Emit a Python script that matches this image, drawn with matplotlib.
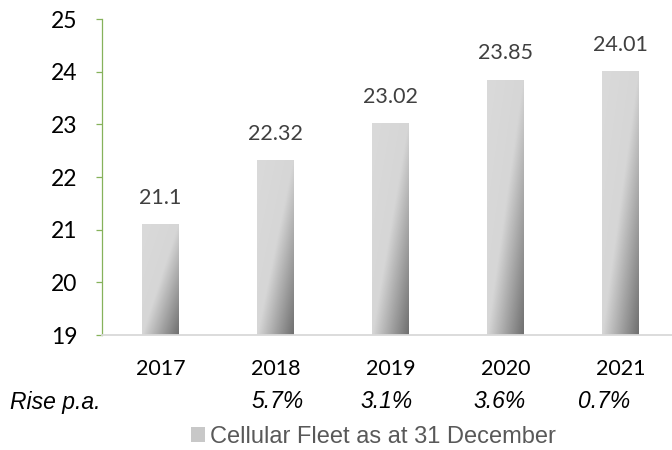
import numpy as np
import matplotlib
matplotlib.use('Agg')
import matplotlib.pyplot as plt
from matplotlib.colors import LinearSegmentedColormap
from matplotlib.patches import Patch
import matplotlib.transforms as mtransforms

# 数据
years = ['2017', '2018', '2019', '2020', '2021']
fleet = [21.1, 22.32, 23.02, 23.85, 24.01]
rise = ['', '5.7%', '3.1%', '3.6%', '0.7%']
y_min, y_max = 19, 25
legend_label = 'Cellular Fleet as at 31 December'

# Rise 行的水平微调（原图并非严格居中）
rise_dx = [0, 0.02, -0.03, -0.05, -0.14]

fig = plt.figure(figsize=(6.72, 4.5), dpi=100)
ax = fig.add_axes([102/672, 115/450, 570/672, 316/450])
ax.set_xlim(-0.509, 4.448)
ax.set_ylim(y_min, y_max)

# 柱子（从 y_min 开始）
x = np.arange(len(years))
bars = ax.bar(x, np.array(fleet) - y_min, bottom=y_min, width=0.32,
              color='#D9D9D9', linewidth=0, zorder=2)

# 渐变填充：左上浅灰 -> 右下深灰
cmap = LinearSegmentedColormap.from_list('g', [(0, '#DADADA'), (0.5, '#D6D6D6'), (1, '#707070')])
uu, vv = np.meshgrid(np.linspace(0, 1, 40), np.linspace(0, 1, 200))
grad = (uu + vv) / 2
for b in bars:
    x0, y0, w, h = b.get_x(), b.get_y(), b.get_width(), b.get_height()
    im = ax.imshow(grad, cmap=cmap, vmin=0, vmax=1, aspect='auto',
                   extent=[x0, x0 + w, y0, y0 + h], origin='upper', zorder=3)
    im.set_clip_path(b)

# 数据标签
for xi, v in zip(x, fleet):
    ax.annotate(f'{v:g}', (xi, v), xytext=(0, 19), textcoords='offset points',
                ha='center', va='center', fontsize=15.5, color='#404040', family='Lato')

# 坐标轴样式
for s in ['top', 'right']:
    ax.spines[s].set_visible(False)
ax.spines['left'].set_color('#86B25B')
ax.spines['left'].set_linewidth(0.9)
ax.spines['bottom'].set_color('#D9D9D9')
ax.spines['bottom'].set_linewidth(1.3)
ax.spines['bottom'].set_zorder(4)

ax.set_yticks(range(y_min, y_max + 1))
ax.tick_params(axis='y', direction='out', length=4.5, width=0.9, color='#86B25B',
               pad=13, labelsize=16.5, labelcolor='black')
ax.set_xticks(x)
ax.set_xticklabels(years)
ax.tick_params(axis='x', length=0, pad=17, labelsize=15.5, labelcolor='black')
for lab in ax.get_xticklabels() + ax.get_yticklabels():
    lab.set_family('Lato')

# Rise p.a. 行
fig.text(10/672, 1 - 402/450, 'Rise p.a.', ha='left', va='center', fontsize=16.5,
         style='italic', family='Liberation Sans', color='black')
trans = mtransforms.blended_transform_factory(ax.transData, fig.transFigure)
for xi, r, dx in zip(x, rise, rise_dx):
    ax.text(xi + dx, 1 - 402/450, r, transform=trans, ha='center', va='center', fontsize=16.5,
            style='italic', family='Liberation Sans', color='black')

# 图例
h = Patch(facecolor='#C8C8C8', edgecolor='none')
leg = fig.legend([h], [legend_label], loc='center', bbox_to_anchor=(373/672, 1 - 437/450),
                 frameon=False, handlelength=0.6, handleheight=0.6, handletextpad=0.2,
                 prop={'family': 'Liberation Sans', 'size': 17})
for t in leg.get_texts():
    t.set_color('#595959')

fig.savefig('out.png', dpi=100)
